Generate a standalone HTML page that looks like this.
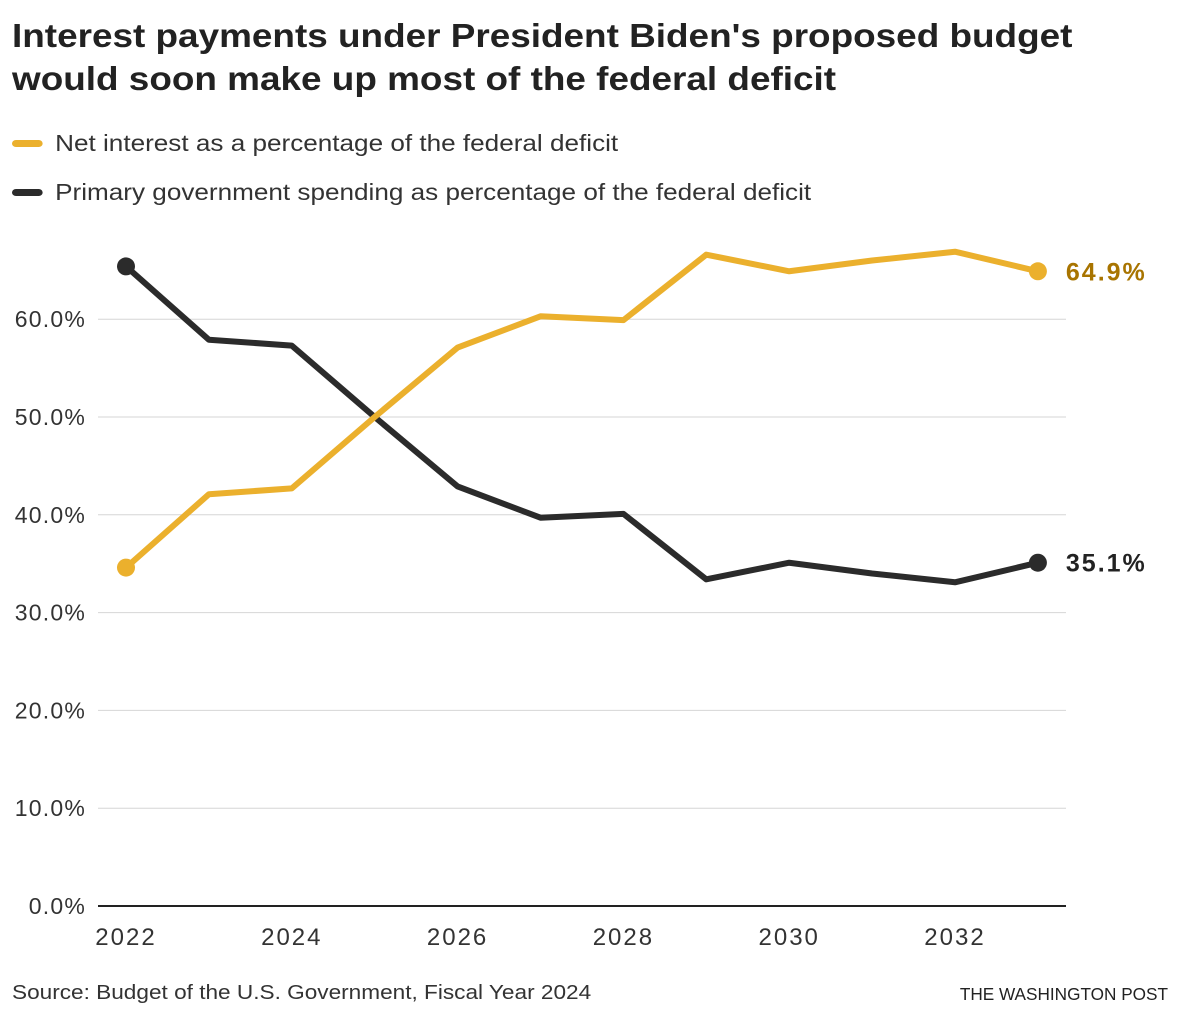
<!DOCTYPE html>
<html><head><meta charset="utf-8"><style>
body{margin:0;width:1180px;height:1020px;background:#fff;font-family:"Liberation Sans",sans-serif;color:#222;position:relative;overflow:hidden}
.t{position:absolute;left:12px;top:14px;font-size:33px;font-weight:bold;line-height:43px;color:#222;transform:scaleX(1.118);transform-origin:0 0;white-space:nowrap}
.lg{position:absolute;left:12px;font-size:23px;color:#333;display:flex;align-items:center;transform:scaleX(1.135);transform-origin:0 0;white-space:nowrap}
.lg span.sw{display:inline-block;width:27px;height:7px;border-radius:4px;margin-right:11px}
.src{position:absolute;left:12px;top:982px;font-size:20px;color:#333;transform:scaleX(1.13);transform-origin:0 0;white-space:nowrap}
.wp{position:absolute;right:12px;top:984px;font-size:17.2px;color:#222}
svg{position:absolute;left:0;top:0}
</style></head><body>
<div class="t">Interest payments under President Biden's proposed budget<br>would soon make up most of the federal deficit</div>
<div class="lg" style="top:130px"><span class="sw" style="background:#ebb02d"></span>Net interest as a percentage of the federal deficit</div>
<div class="lg" style="top:179px"><span class="sw" style="background:#2b2b2b"></span>Primary government spending as percentage of the federal deficit</div>
<svg id="c" width="1180" height="1020"></svg>
<div class="src">Source: Budget of the U.S. Government, Fiscal Year 2024</div>
<div class="wp">THE WASHINGTON POST</div>
<script>
const years=[2022,2023,2024,2025,2026,2027,2028,2029,2030,2031,2032,2033];
const interest=[34.6,42.1,42.7,50.0,57.1,60.3,59.9,66.6,64.9,66.0,66.9,64.9];
const primary=[65.4,57.9,57.3,50.0,42.9,39.7,40.1,33.4,35.1,34.0,33.1,35.1];
const yTicks=[0,10,20,30,40,50,60];
const xTicks=[2022,2024,2026,2028,2030,2032];
const svg=document.getElementById('c');const NS='http://www.w3.org/2000/svg';
const x=v=>126+(v-2022)*82.9;
const y=v=>906-v*9.78;
function mk(t,a){const e=document.createElementNS(NS,t);for(const k in a)e.setAttribute(k,a[k]);svg.appendChild(e);return e;}
yTicks.forEach(v=>{
 const l=mk('line',{x1:98,x2:1066,y1:y(v),y2:y(v),stroke:v===0?'#222':'#d6d6d6','stroke-width':v===0?2:1});
 
 
 const t=mk('text',{x:86,y:y(v)+8,'font-size':23,fill:'#333','text-anchor':'end','letter-spacing':'1.2','font-family':'Liberation Sans, sans-serif'});
 t.textContent=v.toFixed(1)+'%';
 
 
});
xTicks.forEach(v=>{
 const t=mk('text',{x:x(v),y:945,'font-size':24,fill:'#333','text-anchor':'middle','letter-spacing':'2','font-family':'Liberation Sans, sans-serif'});
 t.textContent=v;
 
 
});
function series(vals,col,name,labCol){
 const p=mk('polyline',{points:vals.map((v,i)=>x(years[i])+','+y(v)).join(' '),fill:'none',stroke:col,'stroke-width':6,'stroke-linejoin':'round'});
 
 
 [0,vals.length-1].forEach(i=>{
  const c=mk('circle',{cx:x(years[i]),cy:y(vals[i]),r:9,fill:col});
  
  
 });
 const n=vals.length-1;
 const t=mk('text',{x:x(years[n])+28,y:y(vals[n])+9,'font-size':25,'font-weight':'bold',fill:labCol,'letter-spacing':'2','font-family':'Liberation Sans, sans-serif'});
 t.textContent=vals[n].toFixed(1)+'%';
 
 
}
series(primary,'#2b2b2b','primary-spending','#222');
series(interest,'#ebb02d','net-interest','#a87400');
</script>
</body></html>
